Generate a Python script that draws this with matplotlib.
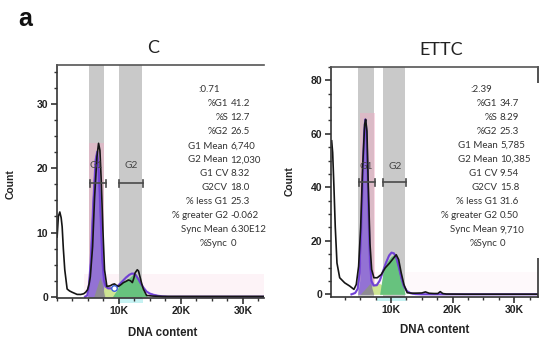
import matplotlib
matplotlib.use('Agg')
import matplotlib.pyplot as plt
from matplotlib.patches import Rectangle
from matplotlib.ticker import MultipleLocator, FixedLocator, FixedFormatter

# ---------------- data (x in thousands of DNA-content units) ----------------
x_tick_vals = [10, 20, 30]
x_tick_labels = ['10K', '20K', '30K']

# Panel C
c_title = 'C'
c_yticks = [0, 10, 20, 30]
c_hist_x = [0.1, 0.3, 0.53, 0.75, 0.91, 1.1, 1.33, 1.71, 2.1, 2.51, 3.31, 3.9, 4.37, 4.7, 5.0, 5.25, 5.44,
            5.81, 6.13, 6.51, 6.77, 6.99, 7.2, 7.47, 7.73, 8.11, 8.64, 9.0, 9.33, 9.6, 9.97, 10.4, 10.77,
            11.2, 11.57, 11.9, 12.21, 12.45, 12.64, 13.0, 13.2, 13.44, 13.7, 13.97, 14.5, 15.5, 17, 20, 25, 30, 33.4]
c_hist_y = [9.3, 12.5, 13.2, 12.3, 10.9, 7.5, 4.2, 1.2, 0.9, 0.7, 0.36, 0.35, 0.46, 0.7, 1.1, 2.0, 3.1,
            7.8, 15.5, 21.8, 23.9, 22.8, 18.1, 10.4, 4.2, 1.6, 1.7, 1.9, 2.0, 1.8, 1.6, 1.9, 2.2,
            2.4, 2.6, 2.5, 2.2, 2.9, 3.7, 4.2, 4.0, 3.1, 2.1, 1.2, 0.2, 0.1, 0.05, 0.05, 0.05, 0.05, 0.05]
c_fit_x = [4.6, 4.95, 5.2, 5.5, 5.92, 6.3, 6.56, 6.83, 7.1, 7.37, 7.64, 7.9, 8.3, 8.8, 9.25, 9.7, 10.2,
           10.7, 11.2, 11.7, 12.1, 12.4, 12.8, 13.2, 13.6, 14.0, 14.5, 15.0, 15.6, 16.3, 17.0, 18.0, 25, 33.4]
c_fit_y = [0, 0.2, 1.5, 5.2, 14.6, 21.3, 22.6, 19.2, 12.5, 5.75, 2.6, 1.6, 1.3, 1.3, 1.35, 1.5, 2.0,
           2.5, 3.0, 3.4, 3.6, 3.6, 3.3, 2.7, 2.0, 1.4, 0.8, 0.5, 0.3, 0.15, 0.05, 0, 0, 0]
c_g1_x = [4.95, 5.2, 5.5, 5.92, 6.3, 6.51, 6.83, 7.1, 7.37, 7.64, 7.9]
c_g1_y = [0, 1.5, 5.2, 14.6, 21.3, 22.6, 19.2, 12.5, 5.75, 2.1, 0]
c_deb_x = [6.0, 6.5, 7.0, 7.3, 7.75]
c_deb_y = [0, 1.5, 3.0, 2.2, 0]
c_s_x = [7.4, 7.7, 8.5, 9.3, 10.2]
c_s_y = [0, 2.1, 1.6, 0.9, 0]
c_g2_x = [9.0, 9.6, 10.3, 11.0, 11.65, 12.1, 12.46, 12.8, 13.0, 13.3, 13.63, 14.0, 14.34, 14.7]
c_g2_y = [0, 0.9, 2.1, 2.5, 2.9, 3.3, 3.7, 3.6, 3.2, 2.5, 1.6, 0.8, 0.3, 0]
c_gates = [(5.39, 7.96), (10.05, 13.91)]
c_bands = [(5.22, 7.64), (10.05, 13.75)]
c_pink = (5.3, 7.7, 23.9)
c_gate_y = 17.7
c_gate_label_y = 20.4
c_gate_label_x = [6.46, 11.98]
c_marker = (9.25, 1.35)
c_stat_labels = ['%G1', '%S', '%G2', 'G1 Mean', 'G2 Mean', 'G1 CV', 'G2CV', '% less G1',
                 '% greater G2', 'Sync Mean', '%Sync']
c_stat_values = ['41.2', '12.7', '26.5', '6,740', '12,030', '8.32', '18.0', '25.3', '-0.062', '6.30E12', '0']
c_chisq = ':0.71'

# Panel ETTC
e_title = 'ETTC'
e_yticks = [0, 20, 40, 60, 80]
e_hist_x = [0.39, 0.55, 0.76, 0.97, 1.25, 1.69, 2.5, 3.31, 4.0, 4.38, 4.76, 5.09, 5.41, 5.74, 5.9, 6.11,
            6.32, 6.6, 6.87, 7.24, 7.78, 8.43, 9.08, 9.79, 10.44, 10.86, 11.25, 11.67, 12.1, 12.64, 13.5,
            15.0, 15.6, 16.2, 17.0, 17.6, 18.0, 18.4, 19.0, 22, 28, 33.9]
e_hist_y = [57.4, 53, 40, 25.3, 11.7, 6.2, 4.3, 3.1, 1.85, 3.7, 10.5, 25, 47.5, 63.6, 65.4, 61,
            41, 19, 9.3, 6.2, 6.2, 7.4, 9.9, 11.7, 13.6, 14.8, 13, 8, 3.7, 0.6, 0.4,
            0.5, 0.9, 0.4, 0.3, 0.3, 1.0, 0.3, 0.1, 0.05, 0.05, 0.05]
e_fit_x = [3.6, 4.2, 4.6, 4.93, 5.2, 5.45, 5.65, 5.84, 6.0, 6.2, 6.4, 6.6, 6.85, 7.2, 7.7, 8.2, 8.7,
           9.2, 9.7, 10.1, 10.5, 10.9, 11.3, 11.7, 12.1, 12.6, 13.2, 14.0, 15.0, 20, 33.9]
e_fit_y = [0, 0.5, 2, 8, 25, 45, 60, 65.4, 62, 48, 28, 12, 5, 3.3, 3.4, 5.2, 8.5,
           11.8, 14.5, 15.6, 15.3, 13.5, 10, 6, 3, 1.2, 0.4, 0.1, 0, 0, 0]
e_g1_x = [4.6, 4.93, 5.09, 5.3, 5.5, 5.7, 5.84, 6.06, 6.27, 6.54, 6.8, 7.0, 7.19]
e_g1_y = [0, 5, 13, 30, 48, 60, 64.5, 58.6, 37.7, 16.7, 5.6, 2, 0]
e_deb_x = [5.0, 5.6, 6.2, 6.6, 6.9, 7.2]
e_deb_y = [0, 1.5, 3.0, 4.1, 2.5, 0]
e_s_x = [6.5, 7.0, 7.6, 8.2, 8.8, 9.4, 10.0]
e_s_y = [0, 3.5, 4.3, 4.0, 3.0, 1.5, 0]
e_g2_x = [8.17, 8.7, 9.24, 9.7, 10.05, 10.35, 10.6, 10.9, 11.13, 11.57, 12.0, 12.3]
e_g2_y = [0, 8, 11.7, 13.2, 14.2, 14.6, 14.8, 14.2, 13, 8, 3.1, 0]
e_gates = [(4.81, 7.36), (8.75, 12.43)]
e_bands = [(4.65, 7.19), (8.7, 12.27)]
e_pink = (4.93, 7.36, 67.9)
e_gate_y = 41.9
e_gate_label_y = 47.8
e_gate_label_x = [5.95, 10.65]
e_stat_labels = c_stat_labels
e_stat_values = ['34.7', '8.29', '25.3', '5,785', '10,385', '9.54', '15.8', '31.6', '0.50', '9,710', '0']
e_chisq = ':2.39'

# ---------------- figure ----------------
W, H = 550, 347
fig = plt.figure(figsize=(W / 100, H / 100), dpi=100)


def fx(px):
    return px / W


def fy(py):
    return 1 - py / H


def make_axes(l, r, t, b):
    return fig.add_axes([fx(l), fy(b), fx(r) - fx(l), fy(t) - fy(b)])


TICKFONT = 'Liberation Sans'
STATFONT = 'Lato'
SPINE = '#333333'


def draw_panel(ax, xlim, ylim, yticks, yminor, hist_x, hist_y, fit_x, fit_y,
               g1_x, g1_y, deb_x, deb_y, s_x, s_y, g2_x, g2_y,
               bands, pink, gates, gate_y, gate_lx, gate_ly, cap, right_spine, strip_alpha):
    ax.set_xlim(*xlim)
    ax.set_ylim(*ylim)
    for (a, b) in bands:
        ax.axvspan(a, b, color='#c9c9c9', zorder=0.5, lw=0)
    ax.add_patch(Rectangle((pink[0], 0), pink[1] - pink[0], pink[2], color='#f2a9c4', alpha=0.45,
                           lw=0, zorder=0.8))
    ax.add_patch(Rectangle((4.5, 0), xlim[1] - 4.5, ylim[1] * 0.1, color='#fdeef5', alpha=strip_alpha,
                           lw=0, zorder=0.4))
    ax.fill_between(g1_x, g1_y, color='#8b6bd6', alpha=0.9, lw=0, zorder=1.2)
    ax.fill_between(s_x, s_y, color='#cde58e', alpha=0.95, lw=0, zorder=1.3)
    ax.fill_between(g2_x, g2_y, color='#62c27a', alpha=0.95, lw=0, zorder=1.4)
    ax.fill_between(deb_x, deb_y, color='#8e8e8e', alpha=0.95, lw=0, zorder=1.5)
    ax.plot(fit_x, fit_y, color='#3a3fd0', lw=1.0, zorder=2.2)
    ax.plot(fit_x, fit_y, color='#7a3fd6', lw=1.6, alpha=0.8, zorder=2.3)
    ax.plot(hist_x, hist_y, color='#151515', lw=1.2, zorder=2.5)
    for (a, b), lx in zip(gates, gate_lx):
        ax.plot([a, b], [gate_y, gate_y], color='#4a4a4a', lw=1.2, zorder=3)
        ax.plot([a, a], [gate_y - cap, gate_y + cap], color='#4a4a4a', lw=1.2, zorder=3)
        ax.plot([b, b], [gate_y - cap, gate_y + cap], color='#4a4a4a', lw=1.2, zorder=3)
    for lx, name in zip(gate_lx, ['G1', 'G2']):
        ax.text(lx, gate_ly, name, ha='center', va='center', fontsize=7.3, family=STATFONT,
                color='#444444', zorder=3)
    ax.xaxis.set_major_locator(FixedLocator(x_tick_vals))
    ax.xaxis.set_major_formatter(FixedFormatter(x_tick_labels))
    ax.xaxis.set_minor_locator(MultipleLocator(2.5))
    ax.yaxis.set_major_locator(FixedLocator(yticks))
    ax.yaxis.set_minor_locator(MultipleLocator(yminor))
    ax.tick_params(which='major', length=4, width=1.2, color=SPINE, pad=2)
    ax.tick_params(which='minor', length=2.5, width=1.0, color=SPINE)
    for lab in ax.get_xticklabels() + ax.get_yticklabels():
        lab.set_fontfamily(TICKFONT)
        lab.set_fontweight('bold')
        lab.set_fontsize(7.5)
        lab.set_color('#222222')
    for s in ['left', 'bottom']:
        ax.spines[s].set_color(SPINE)
        ax.spines[s].set_linewidth(1.2)
    ax.spines['top'].set_color('#555555')
    ax.spines['top'].set_linewidth(1.2)
    ax.spines['right'].set_visible(right_spine)
    ax.spines['right'].set_color(SPINE)
    ax.spines['right'].set_linewidth(1.2)
    ax.patch.set_alpha(0)


axL = make_axes(56.5, 264, 65, 298)
axR = make_axes(330.5, 538.3, 67, 297)

draw_panel(axL, (0, 33.4), (-0.2, 36.1), c_yticks, 2.5, c_hist_x, c_hist_y, c_fit_x, c_fit_y,
           c_g1_x, c_g1_y, c_deb_x, c_deb_y, c_s_x, c_s_y, c_g2_x, c_g2_y,
           c_bands, c_pink, c_gates, c_gate_y, c_gate_label_x, c_gate_label_y, 0.55, False, 0.7)
axL.plot([c_marker[0]], [c_marker[1]], marker='o', ms=4, mfc='white', mec='#3a5fd8', mew=1.0, zorder=2.6)

draw_panel(axR, (0.2, 33.9), (-1.0, 85.0), e_yticks, 5, e_hist_x, e_hist_y, e_fit_x, e_fit_y,
           e_g1_x, e_g1_y, e_deb_x, e_deb_y, e_s_x, e_s_y, e_g2_x, e_g2_y,
           e_bands, e_pink, e_gates, e_gate_y, e_gate_label_x, e_gate_label_y, 1.3, True, 0.35)

# cyan artefacts below the axis
for ax, (a, b), yl in [(axL, (9.9, 13.9), (-0.2, -1.0)), (axR, (7.7, 12.5), (-1.0, -2.6))]:
    ax.add_patch(Rectangle((a, yl[1]), b - a, yl[0] - yl[1], color='#c6f2f2', lw=0,
                           clip_on=False, zorder=0.3))

# white box behind the right-hand statistics
fig.patches.append(Rectangle((fx(442), fy(258)), fx(545) - fx(442), fy(83) - fy(258),
                             transform=fig.transFigure, color='white', lw=0, zorder=1))

# titles and labels
fig.text(fx(153), fy(48), c_title, ha='center', va='center', fontsize=13, family=STATFONT, color='#222222')
fig.text(fx(441), fy(50), e_title, ha='center', va='center', fontsize=13, family=STATFONT, color='#222222')
fig.text(fx(25), fy(19), 'a', ha='center', va='center', fontsize=18, fontweight='bold',
         family=TICKFONT, color='#111111')
fig.text(fx(11), fy(184), 'Count', rotation=90, ha='center', va='center', fontsize=7.5,
         fontweight='bold', family=TICKFONT, color='#222222')
fig.text(fx(290), fy(181), 'Count', rotation=90, ha='center', va='center', fontsize=7.5,
         fontweight='bold', family=TICKFONT, color='#222222')
fig.text(fx(162.5), fy(333), 'DNA content', ha='center', va='center', fontsize=8.3,
         fontweight='bold', family=TICKFONT, color='#222222')
fig.text(fx(435), fy(330), 'DNA content', ha='center', va='center', fontsize=8.3,
         fontweight='bold', family=TICKFONT, color='#222222')

# statistics blocks
def stats(lab_right, val_left, chisq_right, labels, values, chisq, y0, dy):
    fig.text(fx(chisq_right), fy(y0), chisq, ha='right', va='center', fontsize=7,
             family=STATFONT, color='#333333', zorder=3)
    for i, (l, v) in enumerate(zip(labels, values)):
        yy = fy(y0 + dy * (i + 1))
        fig.text(fx(lab_right), yy, l, ha='right', va='center', fontsize=7, family=STATFONT,
                 color='#333333', zorder=3)
        fig.text(fx(val_left), yy, v, ha='left', va='center', fontsize=7, family=STATFONT,
                 color='#333333', zorder=3)


stats(228, 230.5, 220.5, c_stat_labels, c_stat_values, c_chisq, 90, 14.0)
stats(497.5, 500, 491.7, e_stat_labels, e_stat_values, e_chisq, 89.3, 14.06)

fig.savefig('out.png', dpi=100)
